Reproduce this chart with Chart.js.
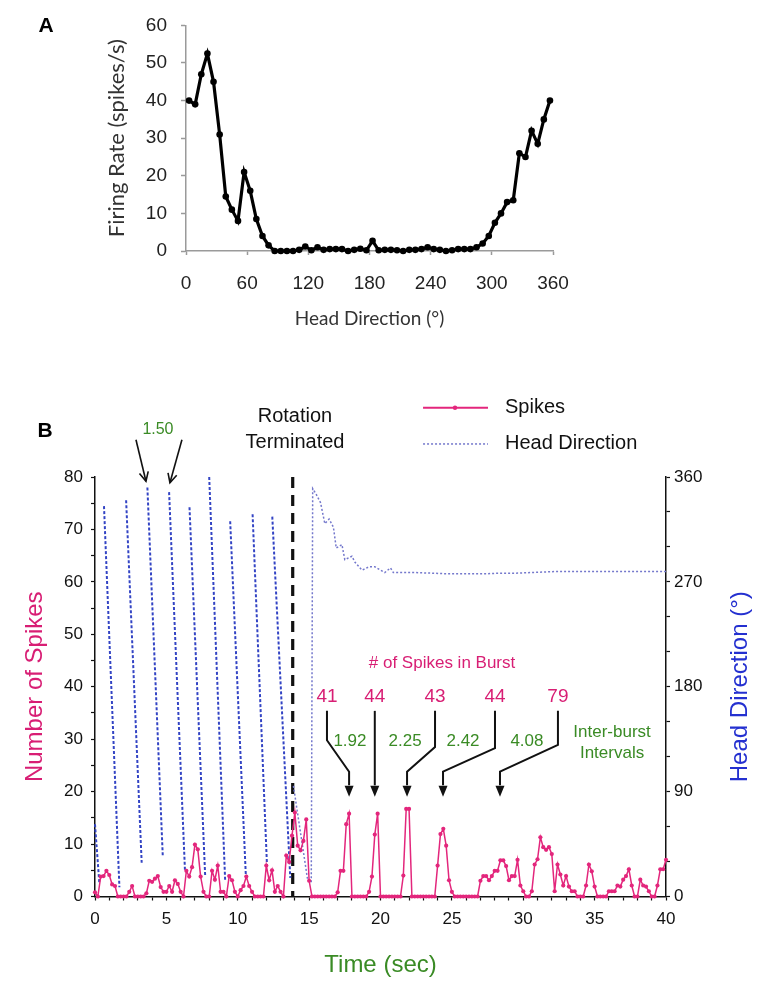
<!DOCTYPE html>
<html><head><meta charset="utf-8">
<script src="https://cdn.jsdelivr.net/npm/chart.js@4.4.0/dist/chart.umd.min.js"></script>
<style>
html,body{margin:0;padding:0;background:#fff;}
body{width:774px;height:995px;position:relative;overflow:hidden;}
#wrapA{position:absolute;left:0;top:0;width:774px;height:345px;}
#wrapB{position:absolute;left:0;top:345px;width:774px;height:650px;}
</style></head><body>
<div id="wrapA"><canvas id="chartA" width="774" height="345"></canvas></div>
<div id="wrapB"><canvas id="chartB" width="774" height="650"></canvas></div>
<script>
// ---------- Panel A data ----------
const headDirBins = [3,9,15,21,27,33,39,45,51,57,63,69,75,81,87,93,99,105,111,117,
  123,129,135,141,147,153,159,165,171,177,183,189,195,201,207,213,219,225,231,237,
  243,249,255,261,267,273,279,285,291,297,303,309,315,321,327,333,339,345,351,357];
const firingRate = [40,39,47,52.5,45,31,14.5,11,8,21,
  16,8.5,4,1.5,0,0,0,0,0.3,1.2,
  0.2,1,0.3,0.5,0.5,0.5,0,0.3,0.6,0.2,
  2.7,0.2,0.3,0.3,0.2,0,0.3,0.3,0.5,1,
  0.5,0.3,0,0.2,0.5,0.5,0.5,1,2,4,
  7.5,10,13,13.5,26,25,32,28.5,35,40];
const dirTicksA = [0,60,120,180,240,300,360];

// ---------- Panel B data ----------
const spikeTimes = [0,0.2,0.4,0.6,0.8,1,1.2,1.4,1.6,1.8,
  2,2.2,2.4,2.6,2.8,3,3.2,3.4,3.6,3.8,
  4,4.2,4.4,4.6,4.8,5,5.2,5.4,5.6,5.8,
  6,6.2,6.4,6.6,6.8,7,7.2,7.4,7.6,7.8,
  8,8.2,8.4,8.6,8.8,9,9.2,9.4,9.6,9.8,
  10,10.2,10.4,10.6,10.8,11,11.2,11.4,11.6,11.8,
  12,12.2,12.4,12.6,12.8,13,13.2,13.4,13.6,13.8,
  14,14.2,14.4,14.6,14.8,15,15.2,15.4,15.6,15.8,
  16,16.2,16.4,16.6,16.8,17,17.2,17.4,17.6,17.8,
  18,18.2,18.4,18.6,18.8,19,19.2,19.4,19.6,19.8,
  20,20.2,20.4,20.6,20.8,21,21.2,21.4,21.6,21.8,
  22,22.2,22.4,22.6,22.8,23,23.2,23.4,23.6,23.8,
  24,24.2,24.4,24.6,24.8,25,25.2,25.4,25.6,25.8,
  26,26.2,26.4,26.6,26.8,27,27.2,27.4,27.6,27.8,
  28,28.2,28.4,28.6,28.8,29,29.2,29.4,29.6,29.8,
  30,30.2,30.4,30.6,30.8,31,31.2,31.4,31.6,31.8,
  32,32.2,32.4,32.6,32.8,33,33.2,33.4,33.6,33.8,
  34,34.2,34.4,34.6,34.8,35,35.2,35.4,35.6,35.8,
  36,36.2,36.4,36.6,36.8,37,37.2,37.4,37.6,37.8,
  38,38.2,38.4,38.6,38.8,39,39.2,39.4,39.6,39.8,
  40];
const spikeCounts = [0.8,0,3.8,3.9,4.9,4.1,2.3,2,0,0,
  0,0,0.9,2,0,0,0,0,0.6,3,
  2.8,3.4,3.9,1.8,0.9,0.9,2,0.9,3.1,2.4,
  0.9,0,4.9,3.8,5.6,9.9,9,3.8,0.9,0,
  0,4.9,3.2,5.9,0.9,0.9,0,3.9,3.1,0.9,
  0,1.2,2,3.8,2,0.9,0,0,0,0,
  5.9,3.1,5,0.9,2,0.9,0,7.8,6.6,11.6,
  16,9.7,8.8,10.6,14.7,3,0,0,0,0,
  0,0,0,0,0,0.8,4.9,4.9,13.8,15.8,
  0,0,0,0,0,0,0.9,3.8,11.8,15.8,
  0,0,0,0,0,0,0,0,4,16.7,
  16.7,0,0,0,0,0,0,0,0,0,
  5.9,11.9,12.9,9.7,3.1,0.9,0,0,0,0,
  0,0,0,0,0,3,3.9,3.9,3.1,3.9,
  4.9,4.9,6.9,6.9,5.8,3.1,3.9,3.9,7,2.1,
  1,0,0,1,6.1,7.1,11.3,9.4,8.9,9.4,
  8.1,1,6.1,4.2,2.1,3.9,1.9,1,1,0,
  0,0,2.1,6.1,4.8,1.9,0,0,0,0,
  1,1,1,2.1,1.9,3.2,3.9,5.2,2.1,0,
  0,3.2,2.1,1.9,1,0,0,2.1,5.2,5.2,
  7];
// head direction during rotation (null = wrap-around gap)
const hdRotTimes = [0,0.3,0.45, 0.63,1.71,1.9, 2.18,3.27,3.5, 3.67,4.75,5.0, 5.19,6.3,6.45,
  6.62,7.72,7.85, 8.0,9.12,9.3, 9.47,10.57,10.8, 11.04,12.05,12.25, 12.42,13.68];
const hdRotDeg = [62,12,null, 335,8,null, 340,29,null, 351,34,null, 347,23,null,
  334,17,null, 360,13,null, 322,17,null, 328,26,null, 326,16];
// head direction after rotation terminated
const hdSettleTimes = [13.9,14.9,15.15,15.25,15.5,15.8,16.1,16.4,16.7,16.9,17.3,17.5,18.0,18.2,18.7,
  19.2,19.6,20.0,20.3,20.7,20.9,21.5,22.5,23.5,24.5,25.5,26.5,27.5,28.5,29.5,
  30.5,31.5,32.5,33.5,34.5,35.5,36.5,37.5,38.5,39.5,40];
const hdSettleDeg = [95,14,12,350,345,338,320,324,317,299,302,289,292,287,280,
  283,283,280,278,282,278,278,278,277.5,277,277,277,277,277.5,277.5,
  278,278.5,279,279,279,279,279,279,279,279,279];

const rotationEnd = 13.85;
const burstCounts = ['41','44','43','44','79'];
const burstLabelX = [16.25,19.6,23.82,28.02,32.43];
const burstTargetX = [17.8,19.6,21.86,24.38,28.37];
const burstElbowY = [29.8,null,28.5,28.3,28.9];
const intervalLabels = ['1.92','2.25','2.42','4.08'];
const intervalLabelX = [17.86,21.72,25.78,30.26];
const rotIntervalLabel = '1.50';

const FONT = '"Liberation Sans", Arial, sans-serif';
const PINK = '#e3267c', PINK_TXT = '#d81e74', GREEN = '#3a8b25', BLUE_TXT = '#2430d0';

function panelLabel(txt, x, y){
  return {id:'pl'+txt, afterDraw(c){
    const ctx=c.ctx; ctx.save(); ctx.font='bold 21px '+FONT; ctx.fillStyle='#000';
    ctx.textAlign='center'; ctx.textBaseline='middle'; ctx.fillText(txt,x,y); ctx.restore();
  }};
}

// ---------- Chart A ----------
new Chart(document.getElementById('chartA'), {
  type:'line',
  data:{datasets:[{
    data: headDirBins.map((d,i)=>({x:d,y:firingRate[i]})),
    borderColor:'#000', backgroundColor:'#000', borderWidth:3.2,
    pointRadius:3.3, pointBackgroundColor:'#000', pointBorderWidth:0, tension:0, clip:false
  }]},
  options:{
    responsive:false, animation:false, events:[],
    layout:{padding:{left:90,right:221,top:23,bottom:0}},
    plugins:{legend:{display:false}, tooltip:{enabled:false}},
    scales:{
      x:{type:'linear', min:0, max:360, afterFit(s){s.height=94;},
        afterBuildTicks(s){ s.ticks = dirTicksA.map(v=>({value:v})); },
        ticks:{font:{family:FONT,size:19}, color:'#222', padding:17, maxRotation:0, autoSkip:false},
        grid:{drawOnChartArea:false, tickLength:4, tickColor:'#9a9a9a', tickWidth:1.5},
        border:{color:'#9a9a9a', width:1.5},
        title:{display:true, text:'Head Direction (°)', color:'#333', font:{family:'Lato', size:19}, padding:{top:0,bottom:14.6}}},
      y:{min:0, max:60, afterFit(s){s.width=96;},
        ticks:{stepSize:10, font:{family:FONT,size:19}, color:'#222', padding:14},
        grid:{drawOnChartArea:false, tickLength:5, tickColor:'#9a9a9a', tickWidth:1.5},
        border:{color:'#9a9a9a', width:1.5},
        title:{display:true, text:'Firing Rate (spikes/s)', color:'#333', font:{family:'Lato', size:22}, padding:{top:13.8,bottom:0}}}
    }
  },
  plugins:[panelLabel('A',46,26)]
});

// ---------- Chart B annotations ----------
function arrowHead(ctx,x1,y1,x2,y2,len,w,filled){
  const a=Math.atan2(y2-y1,x2-x1);
  const bx=x2-len*Math.cos(a), by=y2-len*Math.sin(a);
  const px=-Math.sin(a)*w, py=Math.cos(a)*w;
  ctx.beginPath();
  if(filled){ ctx.moveTo(x2,y2); ctx.lineTo(bx+px,by+py); ctx.lineTo(bx-px,by-py); ctx.closePath(); ctx.fill(); }
  else { ctx.moveTo(bx+px,by+py); ctx.lineTo(x2,y2); ctx.lineTo(bx-px,by-py); ctx.stroke(); }
}
const annotB = {
  id:'annotB',
  beforeDatasetsDraw(chart){
    const {ctx, scales:{x,y}} = chart;
    ctx.save(); ctx.strokeStyle='#111'; ctx.lineWidth=3.2; ctx.setLineDash([11,7]);
    ctx.beginPath(); ctx.moveTo(x.getPixelForValue(rotationEnd), y.getPixelForValue(80));
    ctx.lineTo(x.getPixelForValue(rotationEnd), y.getPixelForValue(0)); ctx.stroke(); ctx.restore();
  },
  afterDraw(chart){
    const {ctx, scales:{x,y,y2}} = chart;
    const X=v=>x.getPixelForValue(v), Y=v=>y.getPixelForValue(v);
    ctx.save();
    ctx.textAlign='center'; ctx.textBaseline='middle';
    // Rotation terminated text
    ctx.fillStyle='#111'; ctx.font='20px '+FONT;
    ctx.fillText('Rotation', X(14.01), Y(91.6));
    ctx.fillText('Terminated', X(14.01), Y(86.5));
    // 1.50 interval
    ctx.fillStyle=GREEN; ctx.font='16px '+FONT;
    ctx.fillText(rotIntervalLabel, X(4.41), Y(89.0));
    ctx.strokeStyle='#111'; ctx.lineWidth=1.6; ctx.setLineDash([]);
    [[2.87,87.1,3.57,79.2],[6.09,87.1,5.25,78.9]].forEach(a=>{
      ctx.beginPath(); ctx.moveTo(X(a[0]),Y(a[1])); ctx.lineTo(X(a[2]),Y(a[3])); ctx.stroke();
      arrowHead(ctx,X(a[0]),Y(a[1]),X(a[2]),Y(a[3]),9,4.5,false);
    });
    // Legend
    ctx.lineWidth=2; ctx.strokeStyle=PINK;
    ctx.beginPath(); ctx.moveTo(X(22.98),Y(93.2)); ctx.lineTo(X(27.53),Y(93.2)); ctx.stroke();
    ctx.fillStyle=PINK; ctx.beginPath(); ctx.arc(X(25.22),Y(93.2),2.2,0,Math.PI*2); ctx.fill();
    ctx.strokeStyle='#7478cc'; ctx.lineWidth=1.5; ctx.setLineDash([2,2]);
    ctx.beginPath(); ctx.moveTo(X(22.98),Y(86.3)); ctx.lineTo(X(27.53),Y(86.3)); ctx.stroke();
    ctx.setLineDash([]);
    ctx.fillStyle='#111'; ctx.font='20px '+FONT; ctx.textAlign='left';
    ctx.fillText('Spikes', X(28.72), Y(93.2));
    ctx.fillText('Head Direction', X(28.72), Y(86.3));
    // burst annotations
    ctx.textAlign='center';
    ctx.fillStyle=PINK_TXT; ctx.font='17px '+FONT;
    ctx.fillText('# of Spikes in Burst', X(24.31), Y(44.5));
    ctx.font='19px '+FONT;
    burstCounts.forEach((t,i)=>ctx.fillText(t, X(burstLabelX[i]), Y(38.0)));
    ctx.strokeStyle='#111'; ctx.fillStyle='#111'; ctx.lineWidth=2;
    burstCounts.forEach((t,i)=>{
      const pts=[[burstLabelX[i],35.4]];
      if(burstElbowY[i]!==null){ pts.push([burstLabelX[i],burstElbowY[i]]); pts.push([burstTargetX[i],23.8]); }
      pts.push([burstTargetX[i],21.2]);
      ctx.beginPath(); ctx.moveTo(X(pts[0][0]),Y(pts[0][1]));
      for(let k=1;k<pts.length;k++) ctx.lineTo(X(pts[k][0]),Y(pts[k][1]));
      ctx.stroke();
      arrowHead(ctx,X(burstTargetX[i]),Y(23),X(burstTargetX[i]),Y(19.0),11,4.5,true);
    });
    ctx.fillStyle=GREEN; ctx.font='17px '+FONT;
    intervalLabels.forEach((t,i)=>ctx.fillText(t, X(intervalLabelX[i]), Y(29.5)));
    ctx.fillText('Inter-burst', X(36.22), Y(31.4));
    ctx.fillText('Intervals', X(36.22), Y(27.4));
    // right axis title
    ctx.translate(y2.right-24, (chart.chartArea.top+chart.chartArea.bottom)/2);
    ctx.rotate(-Math.PI/2);
    ctx.fillStyle=BLUE_TXT; ctx.font='24px '+FONT;
    ctx.fillText('Head Direction (°)',0,0);
    ctx.restore();
  }
};

// ---------- Chart B ----------
new Chart(document.getElementById('chartB'), {
  type:'line',
  data:{datasets:[
    {label:'Spikes', yAxisID:'y', data: spikeTimes.map((t,i)=>({x:t,y:spikeCounts[i]})),
      borderColor:PINK, backgroundColor:PINK, borderWidth:1.5, pointRadius:2.1,
      pointBackgroundColor:PINK, pointBorderWidth:0, tension:0, clip:false},
    {label:'Head Direction', yAxisID:'y2', data: hdRotTimes.map((t,i)=>({x:t,y:hdRotDeg[i]})),
      borderColor:'#3344c4', borderWidth:2, borderDash:[3,2], pointRadius:0, spanGaps:false, tension:0, clip:false},
    {label:'Head Direction (after)', yAxisID:'y2', data: hdSettleTimes.map((t,i)=>({x:t,y:hdSettleDeg[i]})),
      borderColor:'#7478cc', borderWidth:1.5, borderDash:[2,2], pointRadius:0, tension:0, clip:false}
  ]},
  options:{
    responsive:false, animation:false, events:[],
    layout:{padding:{left:10,right:10,top:132,bottom:10}},
    plugins:{legend:{display:false}, tooltip:{enabled:false}},
    scales:{
      x:{type:'linear', min:0, max:40, afterFit(s){s.height=88.5;},
        ticks:{stepSize:1, autoSkip:false, maxRotation:0, padding:9, font:{family:FONT,size:17}, color:'#111',
          callback:v=> v%5===0 ? String(v) : ''},
        grid:{drawOnChartArea:false, tickLength:4, tickColor:'#111', tickWidth:1.2},
        border:{color:'#111', width:1.5},
        title:{display:true, text:'Time (sec)', color:GREEN, font:{family:FONT,size:24}, padding:{top:0,bottom:5.6}}},
      y:{position:'left', min:0, max:80, afterFit(s){s.width=85;},
        ticks:{stepSize:5, autoSkip:false, padding:8, font:{family:FONT,size:17}, color:'#111',
          callback:v=> v%10===0 ? String(v) : ''},
        grid:{drawOnChartArea:false, tickLength:4, tickColor:'#111', tickWidth:1.2},
        border:{color:'#111', width:1.5},
        title:{display:true, text:'Number of Spikes', color:PINK_TXT, font:{family:FONT,size:24}, padding:{top:10.6,bottom:0}}},
      y2:{position:'right', min:0, max:360, afterFit(s){s.width=98;},
        ticks:{stepSize:30, autoSkip:false, padding:4, font:{family:FONT,size:17}, color:'#111',
          callback:v=> v%90===0 ? String(v) : ''},
        grid:{drawOnChartArea:false, tickLength:4, tickColor:'#111', tickWidth:1.2},
        border:{color:'#111', width:1.5}}
    }
  },
  plugins:[annotB, panelLabel('B',45,86)]
});
</script>
</body></html>
